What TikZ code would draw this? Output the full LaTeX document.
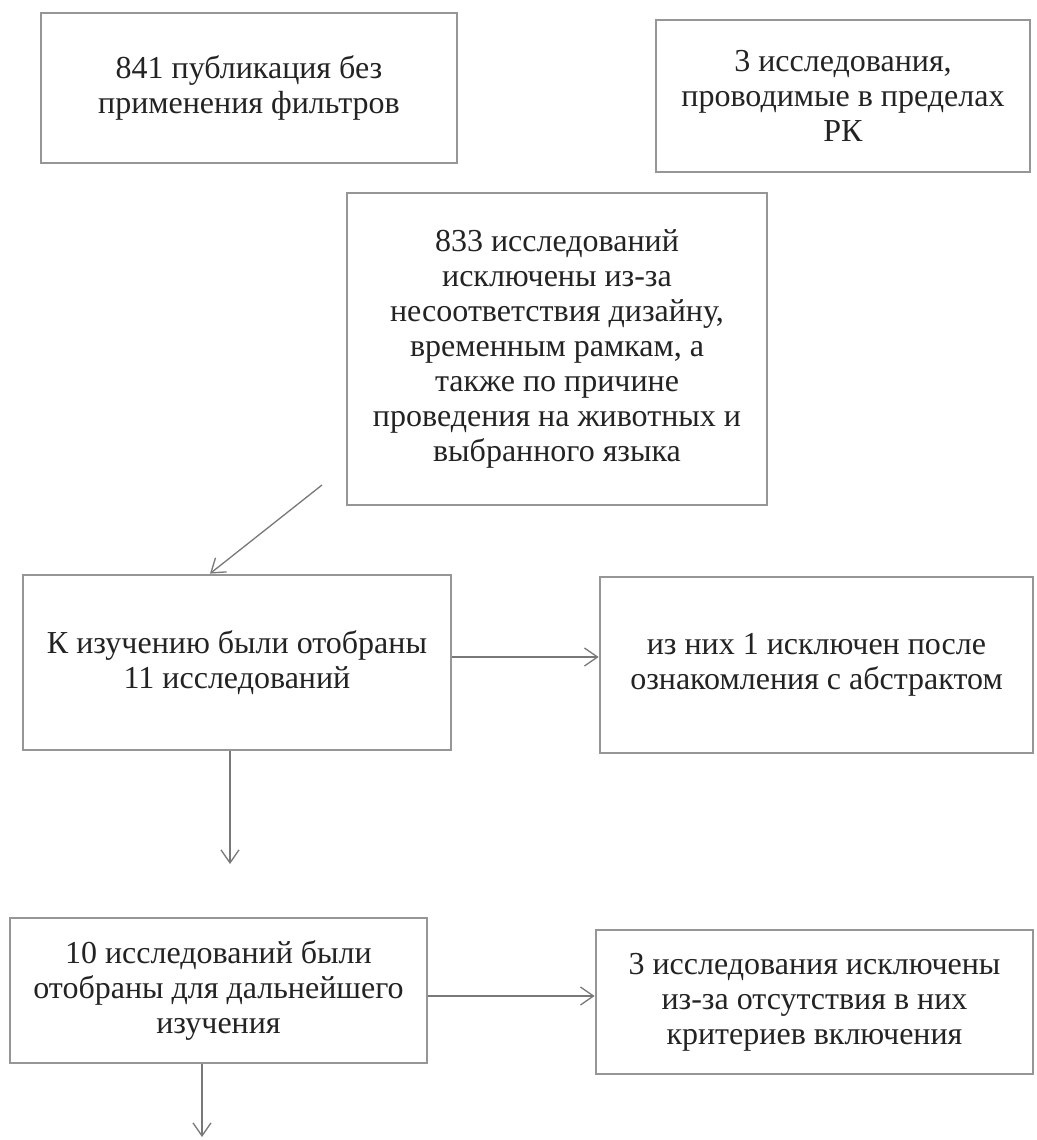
\documentclass[tikz,border=0pt]{standalone}
\usepackage{fontspec}
\setmainfont{Liberation Serif}
\usetikzlibrary{arrows.meta}
\definecolor{boxgray}{RGB}{150,150,150}
\definecolor{linegray}{RGB}{120,120,120}
\definecolor{txt}{RGB}{35,35,35}
\tikzset{
  box/.style={draw=boxgray, line width=2.8pt, fill=white, align=center,
    text=txt, font=\fontsize{32}{35}\selectfont, inner sep=0pt},
  arr/.style={draw=linegray, line width=1.3pt,
    -{Straight Barb[length=13pt,width=18pt,line width=1.3pt]}}
}
\begin{document}
\begin{tikzpicture}[x=1pt,y=-1pt]
\useasboundingbox[fill=white] (0,0) rectangle (1036,1140);

\node[box, minimum width=416pt, minimum height=150pt] (b1) at (249,88)
  {841 публикация без\\применения фильтров};
\node[box, minimum width=374pt, minimum height=152pt] (b2) at (843,96)
  {3 исследования,\\проводимые в пределах\\РК};
\node[box, minimum width=420pt, minimum height=312pt] (b3) at (557,349)
  {833 исследований\\исключены из-за\\несоответствия дизайну,\\временным рамкам, а\\также по причине\\проведения на животных и\\выбранного языка};
\node[box, minimum width=428pt, minimum height=175pt] (b4) at (237,662.5)
  {К изучению были отобраны\\11 исследований};
\node[box, minimum width=433pt, minimum height=176pt] (b5) at (816.5,665)
  {из них 1 исключен после\\ознакомления с абстрактом};
\node[box, minimum width=417pt, minimum height=145pt] (b6) at (218.5,990.5)
  {10 исследований были\\отобраны для дальнейшего\\изучения};
\node[box, minimum width=437pt, minimum height=144pt] (b7) at (814.5,1002)
  {3 исследования исключены\\из-за отсутствия в них\\критериев включения};

\coordinate (s1) at (322,485);
\coordinate (e1) at (230,864);
\coordinate (e2) at (202,1137);

\draw[arr] (s1) -- ([xshift=-27pt]b4.north);
\draw[arr] ([yshift=5.5pt]b4.east) -- ([yshift=5.5pt]b4.east -| b5.west);
\draw[arr] (b4.south -| e1) -- (e1);
\draw[arr] ([yshift=-5.5pt]b6.east) -- ([yshift=-5.5pt]b6.east -| b7.west);
\draw[arr] (b6.south -| e2) -- (e2);
\end{tikzpicture}
\end{document}
